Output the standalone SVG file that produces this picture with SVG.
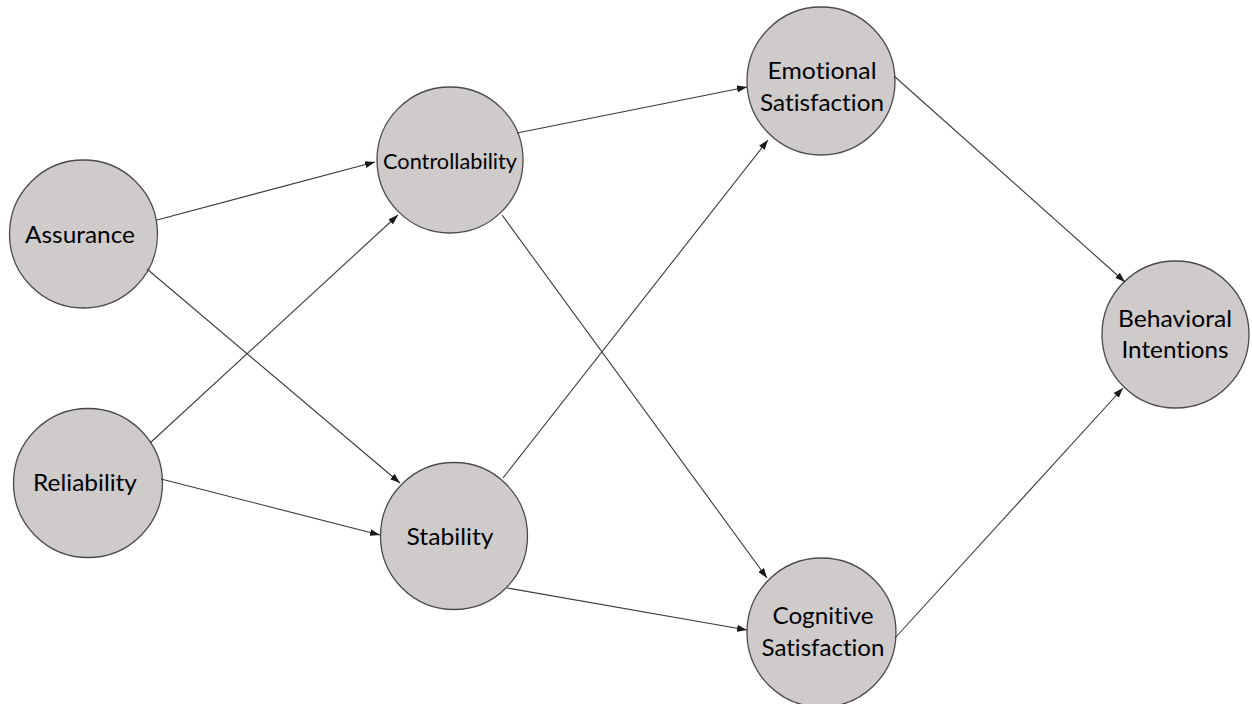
<svg xmlns="http://www.w3.org/2000/svg" width="1252" height="704" viewBox="0 0 1252 704">
  <style>
    .node circle { fill: #cfcbcb; stroke: #4a4a4a; stroke-width: 1.3; }
    .node text { font-family: Lato, "Open Sans", "Liberation Sans", sans-serif; font-size: 24px; fill: #000; text-anchor: middle; font-variant-ligatures: none; }
    .node text.small { font-size: 22px; }
    .edges line { stroke: #3a3a3a; stroke-width: 1.1; fill: none; marker-end: url(#arrow); }
  </style>
  <defs>
    <marker id="arrow" viewBox="0 0 10 7" refX="10" refY="3.5" markerWidth="10" markerHeight="7" markerUnits="userSpaceOnUse" orient="auto">
      <path d="M0,0 L10,3.5 L0,7 z" fill="#1a1a1a"/>
    </marker>
  </defs>
  <rect width="1252" height="704" fill="#ffffff"/>

  <g id="assurance" class="node">
    <circle cx="83.5" cy="234" r="74"/>
    <text x="80" y="243" textLength="110" lengthAdjust="spacingAndGlyphs">Assurance</text>
  </g>
  <g id="reliability" class="node">
    <circle cx="88" cy="483" r="74.5"/>
    <text x="85" y="491" textLength="104" lengthAdjust="spacingAndGlyphs">Reliability</text>
  </g>
  <g id="controllability" class="node">
    <circle cx="450" cy="160" r="73"/>
    <text class="small" x="450" y="169" textLength="134" lengthAdjust="spacingAndGlyphs">Controllability</text>
  </g>
  <g id="stability" class="node">
    <circle cx="454" cy="536" r="73.5"/>
    <text x="450" y="545" textLength="87" lengthAdjust="spacingAndGlyphs">Stability</text>
  </g>
  <g id="emotional-satisfaction" class="node">
    <circle cx="821" cy="81" r="74"/>
    <text x="822" y="79" textLength="109" lengthAdjust="spacingAndGlyphs">Emotional</text>
    <text x="822" y="111" textLength="124" lengthAdjust="spacingAndGlyphs">Satisfaction</text>
  </g>
  <g id="cognitive-satisfaction" class="node">
    <circle cx="821.5" cy="632.5" r="74.5"/>
    <text x="823" y="624" textLength="101" lengthAdjust="spacingAndGlyphs">Cognitive</text>
    <text x="823" y="656" textLength="123" lengthAdjust="spacingAndGlyphs">Satisfaction</text>
  </g>
  <g id="behavioral-intentions" class="node">
    <circle cx="1175.5" cy="334.5" r="73.5"/>
    <text x="1175" y="327" textLength="114" lengthAdjust="spacingAndGlyphs">Behavioral</text>
    <text x="1175" y="358" textLength="107" lengthAdjust="spacingAndGlyphs">Intentions</text>
  </g>

  <g id="connectors" class="edges">
    <line x1="157" y1="220" x2="375" y2="162"/>
    <line x1="147" y1="269" x2="400" y2="483"/>
    <line x1="150" y1="443" x2="398" y2="215"/>
    <line x1="161" y1="479" x2="380" y2="535"/>
    <line x1="517" y1="133" x2="747" y2="87"/>
    <line x1="502" y1="215" x2="767" y2="578"/>
    <line x1="503" y1="478" x2="768" y2="140"/>
    <line x1="507" y1="588" x2="747" y2="630"/>
    <line x1="894" y1="76" x2="1125" y2="282"/>
    <line x1="895" y1="638" x2="1123" y2="388"/>
  </g>
</svg>
